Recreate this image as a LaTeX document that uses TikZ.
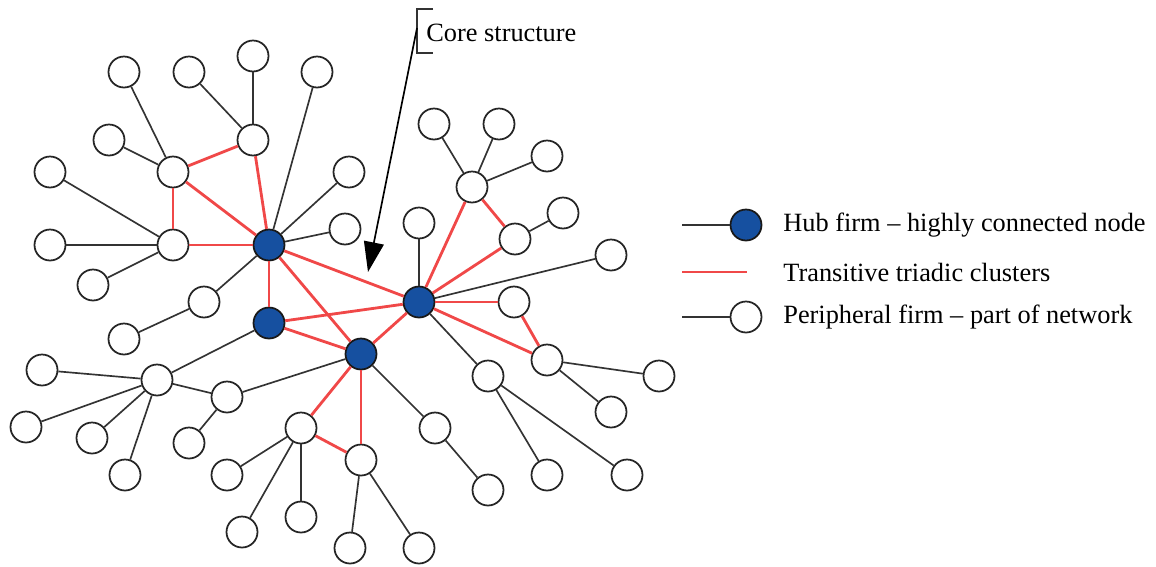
\documentclass[tikz,border=0pt]{standalone}
\usepackage{fontspec}
\setmainfont{Liberation Serif}
\usetikzlibrary{arrows.meta}

\definecolor{hubblue}{RGB}{22,80,160}
\definecolor{trired}{RGB}{240,72,72}

\tikzset{
	peri/.style={circle, draw=black!85, line width=1pt, fill=white, minimum size=0.62cm, inner sep=0pt},
	hub/.style={peri, fill=hubblue, draw=black!90},
	tie/.style={line width=0.95pt, color=black!80},
	tri/.style={line width=1.6pt, color=trired},
	lbl/.style={font=\fontsize{15}{18}\selectfont, inner sep=0pt, anchor=west}
}

\begin{document}
\begin{tikzpicture}[x=0.02cm, y=-0.02cm]
		%%%%% START %%%%%
		\useasboundingbox (0,0) rectangle (1156,566);
		
		% hub firms
		\node[hub] (h1) at (269,245) {};
		\node[hub] (h2) at (419,302) {};
		\node[hub] (h3) at (361,354) {};
		\node[hub] (h4) at (269,323) {};
		
		% firms inside the triads
		\node[peri] (c1) at (253,140) {};
		\node[peri] (c2) at (173,172) {};
		\node[peri] (c3) at (173,245) {};
		\node[peri] (c4) at (472,187) {};
		\node[peri] (c5) at (515,239) {};
		\node[peri] (c6) at (514,302) {};
		\node[peri] (c7) at (547,360) {};
		\node[peri] (c8) at (488,376) {};
		\node[peri] (c9) at (301,428) {};
		\node[peri] (c10) at (361,460) {};
		\node[peri] (c11) at (157,380) {};
		\node[peri] (c12) at (227,397) {};
		\node[peri] (c13) at (204,302) {};
		\node[peri] (c14) at (435,428) {};
		
		% outer firms
		\node[peri] (p1) at (124,72) {};
		\node[peri] (p2) at (189,72) {};
		\node[peri] (p3) at (253,56) {};
		\node[peri] (p4) at (317,72) {};
		\node[peri] (p5) at (109,140) {};
		\node[peri] (p6) at (50,172) {};
		\node[peri] (p7) at (349,172) {};
		\node[peri] (p8) at (50,245) {};
		\node[peri] (p9) at (345,229) {};
		\node[peri] (p10) at (93,285) {};
		\node[peri] (p11) at (434,124) {};
		\node[peri] (p12) at (499,124) {};
		\node[peri] (p13) at (547,156) {};
		\node[peri] (p14) at (563,213) {};
		\node[peri] (p15) at (419,223) {};
		\node[peri] (p16) at (611,255) {};
		\node[peri] (p17) at (659,376) {};
		\node[peri] (p18) at (611,412) {};
		\node[peri] (p19) at (547,475) {};
		\node[peri] (p20) at (627,475) {};
		\node[peri] (p22) at (488,490) {};
		\node[peri] (p23) at (301,517) {};
		\node[peri] (p24) at (350,548) {};
		\node[peri] (p25) at (419,548) {};
		\node[peri] (p27) at (124,339) {};
		\node[peri] (p28) at (42,370) {};
		\node[peri] (p29) at (26,427) {};
		\node[peri] (p30) at (92,438) {};
		\node[peri] (p31) at (125,475) {};
		\node[peri] (p32) at (189,443) {};
		\node[peri] (p33) at (227,475) {};
		\node[peri] (p34) at (242,532) {};
		
		% plain ties
		\draw[tie] (c2) -- (p1);
		\draw[tie] (c2) -- (p5);
		\draw[tie] (c1) -- (p2);
		\draw[tie] (c1) -- (p3);
		\draw[tie] (h1) -- (p4);
		\draw[tie] (c3) -- (p6);
		\draw[tie] (c3) -- (p8);
		\draw[tie] (c3) -- (p10);
		\draw[tie] (h1) -- (p7);
		\draw[tie] (h1) -- (p9);
		\draw[tie] (h1) -- (c13);
		\draw[tie] (c13) -- (p27);
		\draw[tie] (h4) -- (c11);
		\draw[tie] (c11) -- (p28);
		\draw[tie] (c11) -- (p29);
		\draw[tie] (c11) -- (p30);
		\draw[tie] (c11) -- (p31);
		\draw[tie] (c11) -- (c12);
		\draw[tie] (c12) -- (h3);
		\draw[tie] (c12) -- (p32);
		\draw[tie] (c9) -- (p33);
		\draw[tie] (c9) -- (p34);
		\draw[tie] (c9) -- (p23);
		\draw[tie] (c10) -- (p24);
		\draw[tie] (c10) -- (p25);
		\draw[tie] (h3) -- (c14);
		\draw[tie] (c14) -- (p22);
		\draw[tie] (h2) -- (p15);
		\draw[tie] (h2) -- (p16);
		\draw[tie] (h2) -- (c8);
		\draw[tie] (c8) -- (p19);
		\draw[tie] (c8) -- (p20);
		\draw[tie] (c7) -- (p17);
		\draw[tie] (c7) -- (p18);
		\draw[tie] (c4) -- (p11);
		\draw[tie] (c4) -- (p12);
		\draw[tie] (c4) -- (p13);
		\draw[tie] (c5) -- (p14);
		
		% triads
		\draw[tri] (c2) -- (c1);
		\draw[tri] (c2) -- (c3);
		\draw[tri] (c2) -- (h1);
		\draw[tri] (c1) -- (h1);
		\draw[tri] (c3) -- (h1);
		\draw[tri] (h1) -- (h4);
		\draw[tri] (h1) -- (h3);
		\draw[tri] (h1) -- (h2);
		\draw[tri] (h4) -- (h2);
		\draw[tri] (h4) -- (h3);
		\draw[tri] (h2) -- (h3);
		\draw[tri] (h2) -- (c4);
		\draw[tri] (c4) -- (c5);
		\draw[tri] (h2) -- (c5);
		\draw[tri] (h2) -- (c6);
		\draw[tri] (c6) -- (c7);
		\draw[tri] (h2) -- (c7);
		\draw[tri] (h3) -- (c9);
		\draw[tri] (h3) -- (c10);
		\draw[tri] (c9) -- (c10);
		
		% core label
		\node[lbl] (core) at (426,33) {Core structure};
		\draw[tie] (433,9) -- (417,9) -- (417,53) -- (433,53);
		\coordinate (corefoot) at (417,28);
		\coordinate (coretip) at (368,272);
		\draw[tie, black, -{Triangle[length=0.6cm, width=0.4cm]}] (corefoot) -- (coretip);
		
		% legend
		\node[hub] (keyhub) at (746,225) {};
		\coordinate (keyhubend) at (682,225);
		\draw[tie] (keyhubend) -- (keyhub);
		\node[lbl] (keyhubtext) at (783,225) {Hub firm -- highly connected node};
		
		\coordinate (keytriL) at (682,272);
		\coordinate (keytriR) at (747,272);
		\draw[tri] (keytriL) -- (keytriR);
		\node[lbl] (keytritext) at (783,272) {Transitive triadic clusters};
		
		\node[peri] (keyperi) at (746,317) {};
		\coordinate (keyperiend) at (682,317);
		\draw[tie] (keyperiend) -- (keyperi);
		\node[lbl] (keyperitext) at (783,317) {Peripheral firm -- part of network};
		
		%%%%% END %%%%%
\end{tikzpicture}
\end{document}
